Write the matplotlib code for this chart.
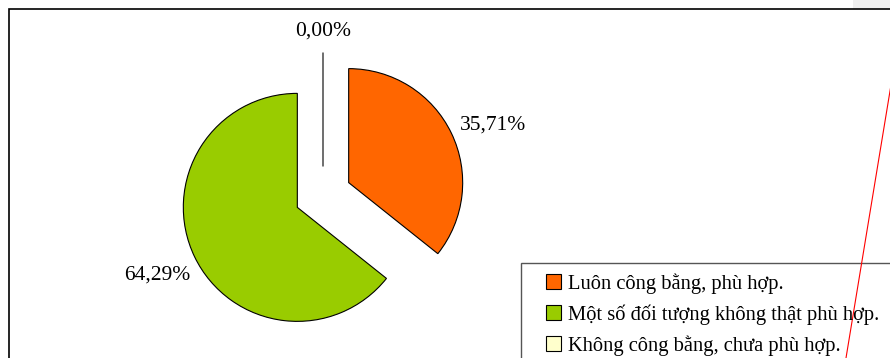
import numpy as np
import matplotlib
matplotlib.use("Agg")
import matplotlib.pyplot as plt
from matplotlib.patches import Rectangle

plt.rcParams['font.family'] = ['Liberation Serif', 'DejaVu Serif']

# data
labels = ["Luôn công bằng, phù hợp.",
          "Một số đối tượng không thật phù hợp.",
          "Không công bằng, chưa phù hợp."]
values = [35.71, 64.29, 0.00]
colors = ["#FF6600", "#99CC00", "#FFFFCC"]

fig = plt.figure(figsize=(8.9, 3.58), dpi=100)
ax = fig.add_axes([0, 0, 1, 1])

# pixel-based coordinates (y up)
W, H = 890, 358
R = 114
wedges, _ = ax.pie(values, colors=colors, startangle=90, counterclock=False,
                   explode=[0.25 * R] * 3, radius=R, center=(323, 163),
                   wedgeprops=dict(edgecolor="black", linewidth=0.8),
                   frame=True, normalize=True)
ax.set_xlim(0, W)
ax.set_ylim(0, H)
ax.set_aspect("equal")
ax.axis("off")

# percentage labels outside each slice (distance, angle shift)
label_pos = [(1.36, -4.0), (1.36, 0.0), (1.19, 0.0)]
for w, v, (d, da) in zip(wedges, values, label_pos):
    ang = np.deg2rad((w.theta1 + w.theta2) / 2 + da)
    cx, cy = w.center
    ax.text(cx + d * R * np.cos(ang), cy + d * R * np.sin(ang),
            f"{v:.2f}%".replace(".", ","), ha="center", va="center",
            fontsize=15.5, color="black")

# outer frame of the chart area
ax.add_patch(Rectangle((9, -20), 1000, H - 9 + 20, fill=False,
                       edgecolor="black", linewidth=1.2, clip_on=False))
ax.add_patch(Rectangle((853, H - 9), 40, 10, facecolor="#efefef",
                       edgecolor="none", zorder=0))

# legend box (runs off the picture) and entries
ax.add_patch(Rectangle((521, -20), 1000, H - 263 + 20, fill=False,
                       edgecolor="#555555", linewidth=1.0, clip_on=False))
leg = fig.legend(wedges, labels, loc="upper left",
                 bbox_to_anchor=(546 / W, 1 - 273 / H),
                 fontsize=14.8, frameon=False,
                 handlelength=0.75, handleheight=0.75,
                 handletextpad=0.3, labelspacing=0.52, borderpad=0,
                 borderaxespad=0)

ax.plot([846, 891], [0, 273], color="red", linewidth=0.8, zorder=10)
leg.set_zorder(5)

fig.savefig("out.png", dpi=100)
